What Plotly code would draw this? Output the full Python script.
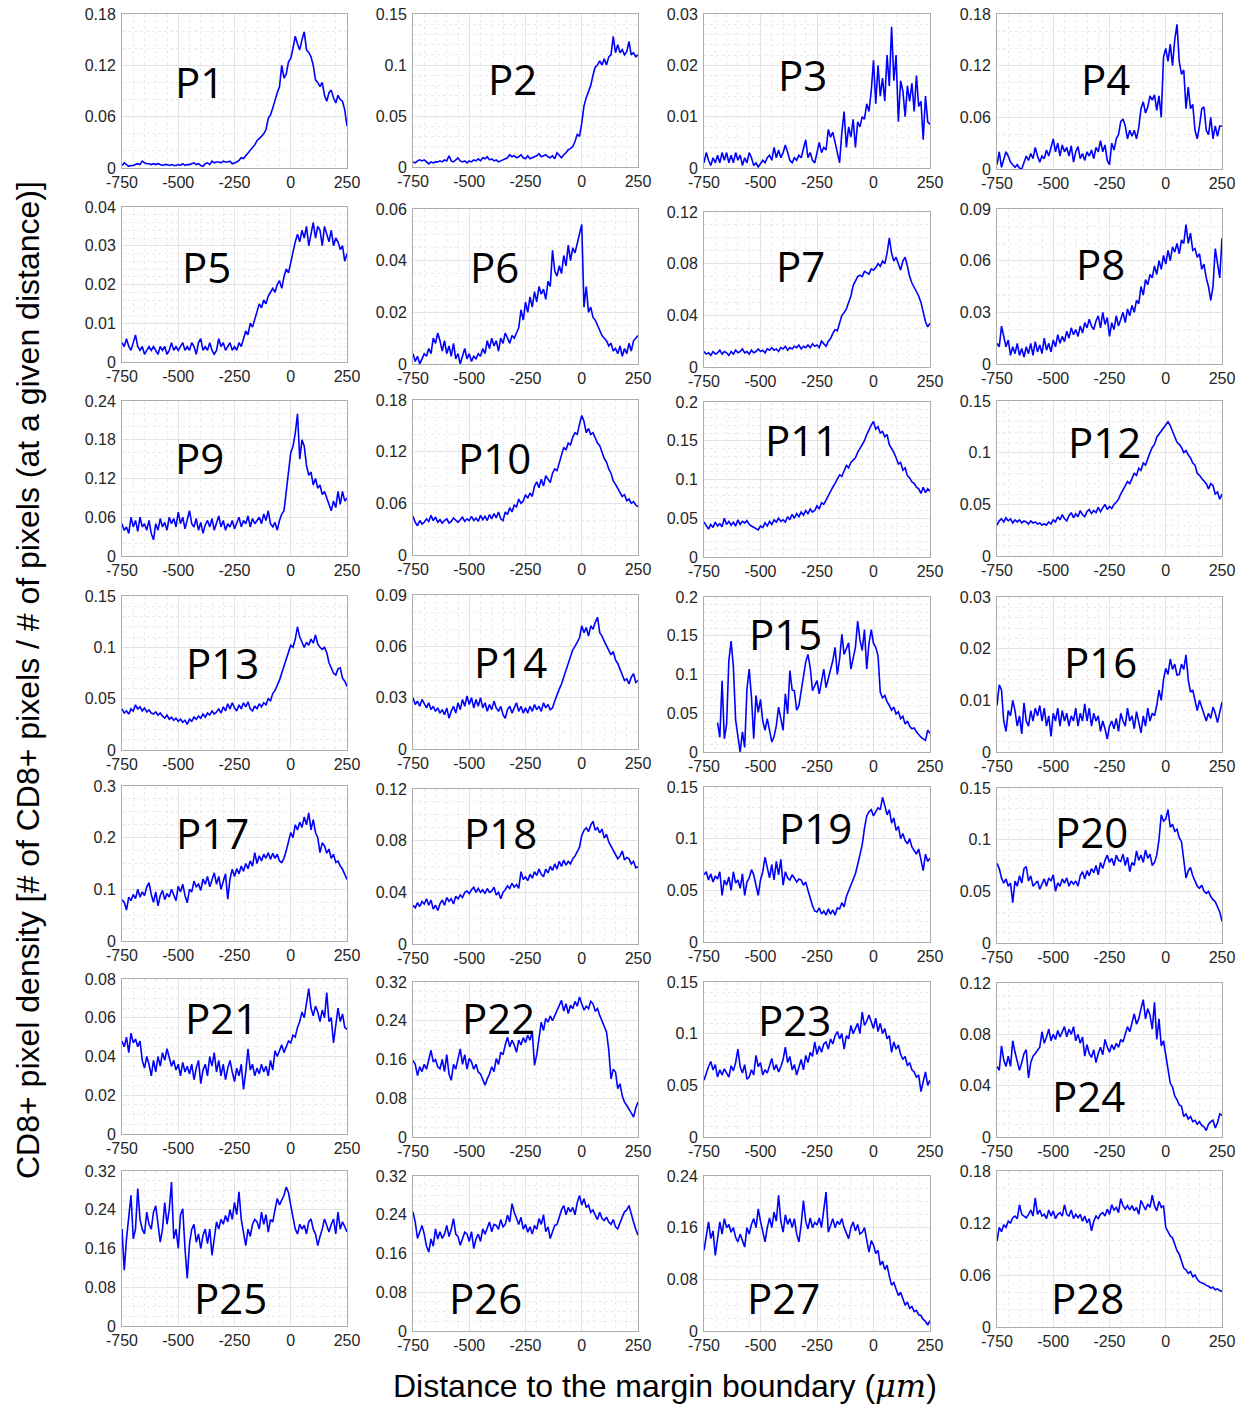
import plotly.graph_objects as go

W, H = 1247, 1405
OFF = 8               # the page body places the figure 8 px from the top-left corner
FW, FH = W - OFF, H - OFF

# ---------------- data ----------------
x_common = list(range(-750, 251, 10))
x_p15 = list(range(-690, 251, 10))
x_ticks = [-750, -500, -250, 0, 250]
x_ticklabels = ["-750", "-500", "-250", "0", "250"]

p1 = [0.003, 0.006, 0.004, 0.002, 0.003, 0.003, 0.004, 0.005, 0.004, 0.008,
      0.006, 0.005, 0.005, 0.004, 0.005, 0.004, 0.005, 0.004, 0.003, 0.004,
      0.004, 0.003, 0.004, 0.003, 0.003, 0.004, 0.003, 0.005, 0.003, 0.004,
      0.004, 0.005, 0.006, 0.004, 0.005, 0.003, 0.002, 0.005, 0.006, 0.004,
      0.008, 0.006, 0.007, 0.007, 0.006, 0.008, 0.007, 0.007, 0.008, 0.005,
      0.006, 0.007, 0.009, 0.012, 0.011, 0.014, 0.017, 0.02, 0.024, 0.027,
      0.032, 0.034, 0.037, 0.04, 0.045, 0.058, 0.062, 0.07, 0.08, 0.088,
      0.095, 0.12, 0.105, 0.11, 0.124, 0.128, 0.14, 0.154, 0.145, 0.138,
      0.15, 0.159, 0.138, 0.135, 0.13, 0.12, 0.103, 0.1, 0.095, 0.1,
      0.085, 0.078, 0.088, 0.091, 0.082, 0.076, 0.085, 0.08, 0.078, 0.068,
      0.049]
p2 = [0.005, 0.004, 0.006, 0.007, 0.006, 0.007, 0.005, 0.003, 0.005, 0.004,
      0.005, 0.005, 0.006, 0.005, 0.007, 0.006, 0.011, 0.006, 0.005, 0.007,
      0.009, 0.006, 0.005, 0.006, 0.004, 0.006, 0.005, 0.007, 0.006, 0.008,
      0.006, 0.009, 0.008, 0.01, 0.007, 0.008, 0.006, 0.007, 0.005, 0.006,
      0.007, 0.008, 0.009, 0.012, 0.01, 0.011, 0.009, 0.01, 0.012, 0.009,
      0.008, 0.011, 0.008, 0.009, 0.01, 0.011, 0.013, 0.01, 0.011, 0.012,
      0.01, 0.009, 0.011, 0.008, 0.014, 0.011, 0.009, 0.012, 0.014, 0.017,
      0.018, 0.02, 0.025, 0.032, 0.03, 0.043, 0.06, 0.068, 0.075, 0.08,
      0.09, 0.098, 0.1, 0.104, 0.1, 0.106, 0.1, 0.108, 0.11, 0.128,
      0.112, 0.12, 0.112, 0.115, 0.11, 0.113, 0.123, 0.11, 0.112, 0.108,
      0.11]
p3 = [0.001, 0.003, 0.0015, 0.0005, 0.002, 0.001, 0.0025, 0.001, 0.003, 0.0015,
      0.003, 0.001, 0.0025, 0.001, 0.003, 0.0015, 0.0025, 0.0005, 0.002, 0.001,
      0.003, 0.002, 0.0005, 0.001, 0.0002, 0.001, 0.0015, 0.001, 0.002, 0.0025,
      0.0015, 0.004, 0.002, 0.0035, 0.002, 0.003, 0.0045, 0.003, 0.0015, 0.001,
      0.002, 0.0015, 0.0025, 0.002, 0.004, 0.0055, 0.002, 0.003, 0.0015, 0.001,
      0.003, 0.005, 0.003, 0.004, 0.0035, 0.0075, 0.006, 0.007, 0.005, 0.003,
      0.001, 0.007, 0.011, 0.004, 0.008, 0.006, 0.0095, 0.004, 0.009, 0.008,
      0.01, 0.0095, 0.0125, 0.011, 0.015, 0.021, 0.0125, 0.02, 0.014, 0.0175,
      0.013, 0.022, 0.016, 0.0275, 0.017, 0.022, 0.009, 0.017, 0.015, 0.01,
      0.016, 0.013, 0.0165, 0.011, 0.018, 0.012, 0.013, 0.0055, 0.014, 0.009,
      0.0085]
p4 = [0.005, 0.02, 0.002, 0.01, 0.02, 0.015, 0.008, 0.005, 0.002, 0.005,
      0.001, 0.0, 0.008, 0.015, 0.01, 0.018, 0.012, 0.025, 0.015, 0.008,
      0.015, 0.012, 0.022, 0.015, 0.025, 0.035, 0.02, 0.03, 0.015, 0.028,
      0.02, 0.025, 0.015, 0.027, 0.008, 0.02, 0.026, 0.012, 0.018, 0.01,
      0.02, 0.015, 0.022, 0.012, 0.025, 0.02, 0.033, 0.02, 0.028, 0.01,
      0.005, 0.03, 0.022, 0.035, 0.04, 0.055, 0.058, 0.05, 0.035, 0.045,
      0.038, 0.045, 0.035, 0.048, 0.07, 0.078, 0.065, 0.072, 0.085, 0.08,
      0.086, 0.068, 0.085, 0.06, 0.13, 0.14, 0.125, 0.145, 0.12, 0.15,
      0.168, 0.125, 0.11, 0.115, 0.07, 0.095, 0.07, 0.075, 0.045, 0.035,
      0.05, 0.07, 0.072, 0.045, 0.04, 0.06, 0.035, 0.05, 0.038, 0.05,
      0.05]
p5 = [0.005, 0.004, 0.006, 0.004, 0.003, 0.005, 0.007, 0.004, 0.003, 0.004,
      0.002, 0.003, 0.004, 0.003, 0.004, 0.003, 0.002, 0.004, 0.003, 0.004,
      0.002, 0.003, 0.005, 0.003, 0.004, 0.003, 0.004, 0.005, 0.003, 0.004,
      0.003, 0.005, 0.004, 0.002, 0.005, 0.006, 0.003, 0.004, 0.003, 0.005,
      0.003, 0.002, 0.003, 0.006, 0.004, 0.005, 0.003, 0.004, 0.005, 0.003,
      0.004, 0.003, 0.005, 0.004, 0.006, 0.008, 0.007, 0.01, 0.009, 0.011,
      0.013, 0.015, 0.014, 0.016, 0.015, 0.017, 0.018, 0.019, 0.018, 0.02,
      0.021, 0.019, 0.022, 0.024, 0.023, 0.026, 0.028, 0.031, 0.033, 0.031,
      0.034, 0.032, 0.035, 0.03, 0.033, 0.036, 0.032, 0.035, 0.034, 0.03,
      0.035, 0.033, 0.031, 0.034, 0.03, 0.032, 0.031, 0.029, 0.03, 0.026,
      0.028]
p6 = [0.004, 0.001, 0.003, 0.0, 0.002, 0.004, 0.003, 0.006, 0.004, 0.01,
      0.008, 0.012, 0.009, 0.005, 0.009, 0.004, 0.007, 0.003, 0.008, 0.002,
      0.004, 0.0, 0.003, 0.006, 0.002, 0.004, 0.001, 0.003, 0.002, 0.004,
      0.003, 0.006, 0.004, 0.009, 0.006, 0.01, 0.007, 0.009, 0.005, 0.01,
      0.008, 0.012, 0.01, 0.008, 0.011, 0.01, 0.012, 0.014, 0.021, 0.017,
      0.024, 0.02, 0.026, 0.022, 0.028, 0.024, 0.03, 0.027, 0.029, 0.025,
      0.032, 0.03, 0.044, 0.036, 0.034, 0.038, 0.035, 0.042, 0.038, 0.046,
      0.04, 0.045, 0.043, 0.047, 0.05, 0.054, 0.022, 0.03, 0.02, 0.022,
      0.018, 0.017, 0.015, 0.013, 0.011, 0.01, 0.009, 0.007, 0.008, 0.005,
      0.006, 0.004, 0.007, 0.003, 0.006, 0.004, 0.008, 0.005, 0.009, 0.01,
      0.011]
p7 = [0.012, 0.01, 0.011, 0.009, 0.012, 0.01, 0.011, 0.013, 0.01, 0.012,
      0.011, 0.009, 0.012, 0.01, 0.013, 0.011, 0.012, 0.014, 0.011, 0.012,
      0.01, 0.013, 0.011, 0.012, 0.014, 0.012, 0.013, 0.011, 0.014, 0.013,
      0.015, 0.013, 0.014, 0.012, 0.015, 0.014, 0.016, 0.013, 0.015, 0.014,
      0.016, 0.015, 0.017, 0.014, 0.016, 0.015, 0.017, 0.015, 0.018, 0.016,
      0.017, 0.015, 0.02, 0.018, 0.016, 0.02, 0.022, 0.026, 0.029, 0.028,
      0.035, 0.04, 0.042, 0.045, 0.05, 0.055, 0.063, 0.066, 0.07, 0.071,
      0.07, 0.074, 0.073, 0.072, 0.076, 0.075, 0.077, 0.08, 0.078, 0.082,
      0.08, 0.088, 0.1, 0.088, 0.082, 0.085, 0.08, 0.075, 0.082, 0.085,
      0.078, 0.07, 0.065, 0.062, 0.058, 0.055, 0.05, 0.042, 0.035, 0.031,
      0.034]
p8 = [0.012, 0.01, 0.022, 0.015, 0.01, 0.014, 0.005, 0.01, 0.006, 0.012,
      0.005, 0.009, 0.004, 0.01, 0.006, 0.012, 0.005, 0.013, 0.007, 0.011,
      0.006, 0.015, 0.008, 0.012, 0.007, 0.014, 0.01, 0.017, 0.012, 0.016,
      0.013, 0.019, 0.015, 0.021, 0.017, 0.02, 0.016, 0.022, 0.018, 0.024,
      0.021, 0.026, 0.022, 0.02, 0.025, 0.028, 0.021, 0.03, 0.023, 0.027,
      0.016, 0.024, 0.02, 0.028, 0.022, 0.026, 0.03, 0.024, 0.032, 0.028,
      0.034, 0.03, 0.037, 0.035, 0.045, 0.04, 0.049, 0.046, 0.052, 0.05,
      0.057, 0.052, 0.06, 0.055, 0.063, 0.058, 0.066, 0.06, 0.068, 0.065,
      0.07, 0.064, 0.072, 0.07, 0.081, 0.07, 0.076, 0.066, 0.067, 0.062,
      0.064, 0.055, 0.058, 0.05, 0.045, 0.037, 0.045, 0.067, 0.058, 0.05,
      0.073]
p9 = [0.05, 0.04, 0.045, 0.035, 0.06, 0.045, 0.055, 0.038, 0.06, 0.045,
      0.05, 0.04, 0.055, 0.035, 0.025, 0.05, 0.04, 0.058, 0.045, 0.052,
      0.04, 0.06, 0.05, 0.058, 0.045, 0.068, 0.05, 0.06, 0.042, 0.055,
      0.07, 0.05, 0.045, 0.058, 0.04, 0.052, 0.035, 0.048, 0.055, 0.045,
      0.058, 0.04, 0.05, 0.062, 0.045, 0.055, 0.04, 0.05, 0.045, 0.055,
      0.042, 0.05, 0.06, 0.045, 0.055, 0.05, 0.062, 0.045, 0.058, 0.05,
      0.055, 0.06, 0.05, 0.065, 0.055, 0.07, 0.05, 0.045, 0.052, 0.04,
      0.055, 0.065, 0.07, 0.1, 0.14, 0.16, 0.17, 0.19, 0.22, 0.15,
      0.18, 0.17, 0.14, 0.125, 0.13, 0.11, 0.12, 0.105, 0.11, 0.095,
      0.1, 0.09, 0.08, 0.07, 0.085, 0.075, 0.1, 0.08, 0.1, 0.085,
      0.09]
p10 = [0.045, 0.038, 0.034, 0.04, 0.036, 0.038, 0.042, 0.039, 0.046, 0.04,
       0.044, 0.038, 0.041, 0.037, 0.04, 0.042, 0.037, 0.039, 0.043, 0.04,
       0.038, 0.041, 0.044, 0.039, 0.042, 0.04, 0.045, 0.04, 0.043, 0.039,
       0.046, 0.041, 0.045, 0.04, 0.047, 0.042, 0.048, 0.043, 0.05, 0.042,
       0.04, 0.05, 0.047, 0.055, 0.05, 0.058, 0.056, 0.065, 0.06, 0.063,
       0.07, 0.066, 0.072, 0.068, 0.08, 0.085, 0.078, 0.088, 0.08, 0.092,
       0.088, 0.084, 0.095, 0.1, 0.098, 0.108, 0.115, 0.125, 0.122, 0.13,
       0.128, 0.137, 0.142, 0.14, 0.152, 0.162, 0.155, 0.142, 0.147, 0.14,
       0.142, 0.135, 0.13, 0.127, 0.118, 0.112, 0.108, 0.1, 0.095, 0.086,
       0.082, 0.077, 0.072, 0.068, 0.07, 0.063, 0.065, 0.06, 0.062, 0.058,
       0.056]
p11 = [0.045, 0.04, 0.036, 0.042, 0.038, 0.045, 0.04, 0.043, 0.039, 0.05,
       0.042, 0.046, 0.041, 0.045, 0.04, 0.048, 0.042, 0.046, 0.044, 0.047,
       0.042, 0.04, 0.038, 0.036, 0.035, 0.04, 0.038, 0.044, 0.04, 0.046,
       0.042, 0.048, 0.045, 0.05, 0.046, 0.048, 0.045, 0.052, 0.048, 0.055,
       0.05, 0.056, 0.052, 0.058, 0.054, 0.06, 0.056, 0.062, 0.058, 0.06,
       0.066, 0.062, 0.07, 0.068, 0.074, 0.08, 0.085, 0.09, 0.095, 0.1,
       0.106, 0.104, 0.112, 0.118, 0.115, 0.122, 0.125, 0.128, 0.135, 0.14,
       0.145, 0.15, 0.158, 0.165, 0.17, 0.175, 0.165, 0.168, 0.16, 0.162,
       0.155, 0.158, 0.145, 0.14, 0.135, 0.128, 0.12, 0.122, 0.112, 0.115,
       0.105, 0.102, 0.097, 0.095, 0.09, 0.088, 0.082, 0.09, 0.083, 0.088,
       0.085]
p12 = [0.03, 0.034, 0.036, 0.033, 0.037, 0.034, 0.036, 0.032, 0.035, 0.033,
       0.035, 0.032, 0.034, 0.033, 0.031, 0.034, 0.032, 0.033, 0.031, 0.032,
       0.03, 0.031, 0.03, 0.033, 0.031, 0.035, 0.033, 0.038, 0.035, 0.04,
       0.036, 0.034, 0.039, 0.042, 0.037, 0.041, 0.038, 0.044, 0.04, 0.038,
       0.043, 0.045, 0.041, 0.044, 0.042, 0.047, 0.043, 0.046, 0.05, 0.045,
       0.048, 0.046, 0.05, 0.052, 0.055, 0.06, 0.064, 0.068, 0.072, 0.07,
       0.076, 0.08, 0.078, 0.085, 0.083, 0.09, 0.088, 0.095, 0.1, 0.105,
       0.108, 0.115, 0.118, 0.122, 0.125, 0.128, 0.13, 0.126, 0.12, 0.115,
       0.11, 0.108, 0.105, 0.1, 0.102, 0.098, 0.095, 0.09, 0.088, 0.08,
       0.078, 0.075, 0.072, 0.07, 0.065, 0.07, 0.068, 0.06, 0.062, 0.055,
       0.06]
p13 = [0.04, 0.036, 0.038, 0.035, 0.04, 0.038, 0.044, 0.04, 0.042, 0.038,
       0.041, 0.037, 0.039, 0.036, 0.035, 0.037, 0.034, 0.036, 0.033, 0.031,
       0.034, 0.03, 0.032, 0.029, 0.031, 0.028, 0.03, 0.027, 0.029, 0.025,
       0.03, 0.028, 0.032, 0.03, 0.033, 0.031, 0.035, 0.032, 0.036, 0.034,
       0.038, 0.035, 0.037, 0.04, 0.036, 0.042, 0.038, 0.045, 0.04, 0.046,
       0.041, 0.038, 0.044, 0.04, 0.046, 0.042, 0.047, 0.04, 0.038, 0.043,
       0.04, 0.045, 0.042, 0.046, 0.044, 0.05, 0.048, 0.055, 0.058, 0.063,
       0.068, 0.075, 0.082, 0.09, 0.097, 0.102, 0.1, 0.108, 0.12, 0.11,
       0.105, 0.1, 0.105, 0.102, 0.108, 0.104, 0.112, 0.103, 0.1, 0.098,
       0.1, 0.095, 0.085, 0.08, 0.075, 0.073, 0.079, 0.08, 0.07, 0.067,
       0.062]
p14 = [0.03, 0.026, 0.028, 0.025, 0.029, 0.026, 0.024, 0.027, 0.023, 0.025,
       0.022, 0.024, 0.021, 0.023, 0.02, 0.024, 0.018, 0.022, 0.025, 0.021,
       0.027, 0.023, 0.029, 0.025, 0.031, 0.026, 0.03, 0.024, 0.029, 0.025,
       0.03, 0.024, 0.027, 0.022, 0.026, 0.023, 0.028, 0.024, 0.022, 0.025,
       0.02, 0.018, 0.023, 0.025, 0.021, 0.024, 0.027, 0.022, 0.025, 0.021,
       0.024, 0.021, 0.025, 0.022, 0.026, 0.023, 0.025, 0.022, 0.027, 0.024,
       0.026, 0.023, 0.024, 0.028, 0.032, 0.035, 0.038, 0.042, 0.046, 0.05,
       0.055, 0.058, 0.06, 0.063, 0.065, 0.072, 0.068, 0.071, 0.066, 0.072,
       0.07, 0.074, 0.077, 0.068, 0.066, 0.063, 0.06, 0.058, 0.055, 0.057,
       0.052, 0.05, 0.047, 0.043, 0.04, 0.041, 0.038, 0.042, 0.044, 0.039,
       0.04]
p15 = [0.038, 0.019, 0.092, 0.017, 0.036, 0.118, 0.143, 0.11, 0.041,
       0.019, 0.0, 0.026, 0.006, 0.081, 0.107, 0.071, 0.017, 0.073, 0.051,
       0.068, 0.04, 0.028, 0.043, 0.028, 0.013, 0.02, 0.034, 0.058, 0.04,
       0.028, 0.075, 0.049, 0.105, 0.08, 0.079, 0.054, 0.06, 0.079, 0.1,
       0.116, 0.126, 0.109, 0.079, 0.085, 0.092, 0.075, 0.09, 0.107, 0.083,
       0.095, 0.107, 0.118, 0.135, 0.1, 0.12, 0.152, 0.126, 0.135, 0.141,
       0.107, 0.12, 0.135, 0.169, 0.145, 0.131, 0.158, 0.107, 0.14, 0.158,
       0.14, 0.135, 0.124, 0.077, 0.07, 0.073, 0.065, 0.06, 0.054, 0.058,
       0.049, 0.052, 0.043, 0.046, 0.036, 0.04, 0.033, 0.03, 0.031, 0.026,
       0.022, 0.019, 0.017, 0.015, 0.028, 0.024]
p16 = [0.009, 0.013, 0.012, 0.006, 0.004, 0.008, 0.007, 0.01, 0.008, 0.005,
       0.007, 0.0035, 0.0095, 0.006, 0.005, 0.008, 0.006, 0.0085, 0.007, 0.009,
       0.006, 0.0085, 0.005, 0.007, 0.003, 0.0075, 0.006, 0.0085, 0.005, 0.008,
       0.006, 0.0075, 0.005, 0.007, 0.006, 0.0085, 0.005, 0.0075, 0.006, 0.0093,
       0.006, 0.0085, 0.005, 0.0075, 0.006, 0.007, 0.004, 0.006, 0.0045, 0.0025,
       0.005, 0.006, 0.0045, 0.0065, 0.004, 0.0075, 0.006, 0.005, 0.0085, 0.006,
       0.007, 0.0045, 0.0078, 0.006, 0.0037, 0.007, 0.005, 0.0085, 0.006, 0.0075,
       0.007, 0.009, 0.012, 0.01, 0.014, 0.0162, 0.015, 0.018, 0.016, 0.017,
       0.0149, 0.015, 0.017, 0.016, 0.0188, 0.014, 0.0116, 0.012, 0.01, 0.008,
       0.01, 0.0085, 0.007, 0.006, 0.0075, 0.0065, 0.0087, 0.0075, 0.0057, 0.0075,
       0.0097]
p17 = [0.08, 0.075, 0.06, 0.085, 0.078, 0.09, 0.082, 0.1, 0.085, 0.095,
       0.088, 0.105, 0.113, 0.09, 0.075, 0.095, 0.068, 0.088, 0.098, 0.08,
       0.092, 0.085, 0.1, 0.09, 0.078, 0.106, 0.095, 0.11, 0.088, 0.074,
       0.1, 0.095, 0.116, 0.105, 0.11, 0.098, 0.12, 0.11, 0.125, 0.105,
       0.12, 0.132, 0.11, 0.125, 0.1, 0.118, 0.13, 0.081, 0.12, 0.139,
       0.125, 0.14, 0.13, 0.145, 0.135, 0.15, 0.14, 0.155, 0.145, 0.171,
       0.15, 0.165, 0.155, 0.168, 0.16, 0.171, 0.158, 0.17, 0.16, 0.168,
       0.155, 0.152, 0.16, 0.175, 0.19, 0.21, 0.2, 0.225, 0.215, 0.23,
       0.22, 0.24, 0.225, 0.248, 0.215, 0.235, 0.21, 0.2, 0.171, 0.19,
       0.184, 0.17, 0.178, 0.16, 0.168, 0.152, 0.155, 0.145, 0.139, 0.13,
       0.119]
p18 = [0.03, 0.028, 0.032, 0.029, 0.033, 0.031, 0.035, 0.03, 0.034, 0.027,
       0.03, 0.026, 0.031, 0.034, 0.03, 0.036, 0.033, 0.035, 0.031, 0.037,
       0.035, 0.038, 0.036, 0.04, 0.041, 0.039, 0.042, 0.044, 0.04, 0.043,
       0.04, 0.042, 0.039, 0.043, 0.04, 0.041, 0.044, 0.038, 0.04, 0.035,
       0.04, 0.042, 0.045, 0.043, 0.047, 0.044, 0.046, 0.043, 0.056, 0.05,
       0.052, 0.049, 0.054, 0.051, 0.056, 0.053, 0.058, 0.054, 0.052, 0.058,
       0.055, 0.06, 0.057, 0.062, 0.058, 0.064, 0.06, 0.065, 0.061, 0.064,
       0.062, 0.066, 0.068, 0.072, 0.075, 0.084, 0.088, 0.09, 0.087, 0.092,
       0.095, 0.088, 0.09, 0.086, 0.089, 0.082, 0.085, 0.079, 0.076, 0.072,
       0.07, 0.066, 0.068, 0.072, 0.065, 0.067, 0.066, 0.062, 0.064, 0.059,
       0.06]
p19 = [0.065, 0.068, 0.06, 0.066, 0.058, 0.064, 0.061, 0.068, 0.045, 0.06,
       0.055, 0.063, 0.05, 0.068, 0.057, 0.06, 0.052, 0.066, 0.045, 0.058,
       0.062, 0.07, 0.065, 0.055, 0.045, 0.06, 0.068, 0.082, 0.07, 0.062,
       0.075, 0.06, 0.078, 0.065, 0.08, 0.055, 0.068, 0.062, 0.06, 0.065,
       0.062, 0.058, 0.061, 0.06, 0.055, 0.058, 0.05, 0.042, 0.035, 0.03,
       0.029, 0.033, 0.027, 0.03, 0.026, 0.032, 0.027, 0.031, 0.026, 0.033,
       0.032, 0.038, 0.034, 0.044, 0.05, 0.055, 0.061, 0.066, 0.075, 0.085,
       0.094, 0.11, 0.122, 0.126, 0.128, 0.122, 0.126, 0.13, 0.128, 0.14,
       0.132, 0.123, 0.128, 0.115, 0.12, 0.108, 0.112, 0.1, 0.105, 0.098,
       0.095, 0.1, 0.092, 0.088, 0.085, 0.09, 0.08, 0.069, 0.085, 0.078,
       0.081]
p20 = [0.077, 0.072, 0.063, 0.058, 0.062, 0.055, 0.058, 0.039, 0.06, 0.055,
       0.065, 0.058, 0.072, 0.074, 0.06, 0.065, 0.055, 0.058, 0.06, 0.052,
       0.058, 0.062, 0.055, 0.063, 0.06, 0.066, 0.05, 0.058, 0.055, 0.062,
       0.058, 0.063, 0.055, 0.06, 0.057, 0.06, 0.055, 0.065, 0.069, 0.062,
       0.07, 0.065, 0.072, 0.068, 0.075, 0.066, 0.078, 0.072, 0.08, 0.085,
       0.078, 0.082, 0.075, 0.085, 0.08, 0.079, 0.086, 0.075, 0.083, 0.069,
       0.078, 0.075, 0.089, 0.08, 0.085, 0.078, 0.09, 0.082, 0.086, 0.075,
       0.078, 0.085, 0.1, 0.124, 0.118, 0.12, 0.129, 0.112, 0.115, 0.108,
       0.11, 0.102, 0.098, 0.08, 0.063, 0.07, 0.073, 0.065, 0.06, 0.055,
       0.053, 0.056, 0.05, 0.048, 0.05, 0.045, 0.042, 0.04, 0.035, 0.03,
       0.021]
p21 = [0.048, 0.045, 0.05, 0.042, 0.052, 0.047, 0.049, 0.045, 0.048, 0.038,
       0.034, 0.04, 0.036, 0.03, 0.038, 0.032, 0.04, 0.035, 0.042, 0.038,
       0.044, 0.04, 0.035, 0.038, 0.033, 0.036, 0.03, 0.037, 0.032, 0.035,
       0.031, 0.036, 0.028, 0.034, 0.038, 0.026, 0.033, 0.036, 0.03, 0.04,
       0.035, 0.042, 0.032, 0.038, 0.03, 0.036, 0.028, 0.034, 0.038, 0.032,
       0.027, 0.034, 0.03, 0.036, 0.023, 0.032, 0.044, 0.033, 0.036, 0.03,
       0.034, 0.031, 0.036, 0.032, 0.035, 0.03, 0.038, 0.033, 0.043, 0.04,
       0.043, 0.046, 0.042, 0.045, 0.048, 0.047, 0.051, 0.05, 0.055, 0.058,
       0.063, 0.06, 0.068, 0.075, 0.065, 0.061, 0.066, 0.063, 0.058, 0.064,
       0.06, 0.073, 0.058, 0.06, 0.047, 0.055, 0.065, 0.058, 0.062, 0.055,
       0.054]
p22 = [0.158, 0.15, 0.127, 0.145, 0.135, 0.15, 0.14, 0.162, 0.179, 0.155,
       0.16, 0.145, 0.141, 0.16, 0.135, 0.17, 0.13, 0.117, 0.15, 0.14,
       0.165, 0.182, 0.15, 0.17, 0.14, 0.162, 0.155, 0.14, 0.15, 0.134,
       0.13, 0.12, 0.107, 0.12, 0.13, 0.145, 0.135, 0.162, 0.15, 0.175,
       0.17, 0.19, 0.206, 0.186, 0.2, 0.19, 0.175, 0.2, 0.19, 0.205,
       0.195, 0.21, 0.2, 0.217, 0.148, 0.17, 0.2, 0.237, 0.22, 0.245,
       0.237, 0.25, 0.24, 0.251, 0.26, 0.27, 0.282, 0.26, 0.275, 0.255,
       0.272, 0.265, 0.28, 0.27, 0.289, 0.275, 0.262, 0.27, 0.265, 0.28,
       0.275, 0.26, 0.265, 0.251, 0.24, 0.23, 0.217, 0.18, 0.12, 0.14,
       0.134, 0.1, 0.11, 0.085, 0.072, 0.065, 0.058, 0.05, 0.041, 0.06,
       0.072]
p23 = [0.055, 0.062, 0.068, 0.073, 0.065, 0.07, 0.058, 0.065, 0.06, 0.066,
       0.062, 0.058, 0.069, 0.064, 0.072, 0.085, 0.068, 0.062, 0.07, 0.056,
       0.058, 0.065, 0.06, 0.079, 0.068, 0.072, 0.06, 0.065, 0.062, 0.07,
       0.076, 0.065, 0.07, 0.063, 0.068, 0.075, 0.087, 0.072, 0.078, 0.065,
       0.07, 0.06, 0.068, 0.075, 0.065, 0.079, 0.072, 0.082, 0.078, 0.092,
       0.08, 0.088, 0.082, 0.09, 0.092, 0.085, 0.095, 0.09, 0.098, 0.102,
       0.095, 0.1, 0.085, 0.098, 0.095, 0.108, 0.1, 0.105, 0.11, 0.1,
       0.121, 0.108, 0.112, 0.118, 0.111, 0.105, 0.115, 0.102, 0.11, 0.1,
       0.105, 0.095, 0.098, 0.082, 0.092, 0.085, 0.089, 0.08, 0.075, 0.078,
       0.069, 0.072, 0.065, 0.063, 0.058, 0.06, 0.044, 0.055, 0.063, 0.05,
       0.055]
p24 = [0.055, 0.052, 0.071, 0.06, 0.055, 0.063, 0.055, 0.075, 0.066, 0.06,
       0.052, 0.058, 0.065, 0.068, 0.046, 0.058, 0.063, 0.065, 0.068, 0.07,
       0.082, 0.073, 0.078, 0.084, 0.075, 0.08, 0.076, 0.083, 0.078, 0.082,
       0.086, 0.078, 0.084, 0.08, 0.086, 0.075, 0.08, 0.073, 0.078, 0.063,
       0.072, 0.065, 0.062, 0.068, 0.058, 0.065, 0.07, 0.064, 0.076, 0.07,
       0.066, 0.072, 0.068, 0.073, 0.07, 0.076, 0.074, 0.08, 0.086, 0.082,
       0.09, 0.096, 0.088, 0.092, 0.1, 0.107, 0.092, 0.1, 0.095, 0.084,
       0.105, 0.076, 0.092, 0.071, 0.075, 0.063, 0.05, 0.042, 0.039, 0.032,
       0.029, 0.025, 0.024, 0.016, 0.018, 0.014, 0.016, 0.012, 0.013, 0.01,
       0.012, 0.009, 0.008, 0.005, 0.01, 0.012, 0.013, 0.007, 0.011, 0.018,
       0.017]
p25 = [0.2, 0.115, 0.18, 0.221, 0.27, 0.18, 0.2, 0.284, 0.22, 0.2,
       0.19, 0.235, 0.21, 0.2, 0.235, 0.248, 0.21, 0.173, 0.2, 0.255,
       0.21, 0.24, 0.297, 0.18, 0.2, 0.16, 0.23, 0.242, 0.16, 0.098,
       0.17, 0.2, 0.21, 0.173, 0.19, 0.16, 0.187, 0.2, 0.17, 0.2,
       0.146, 0.18, 0.215, 0.2, 0.22, 0.21, 0.228, 0.215, 0.24, 0.22,
       0.255, 0.23, 0.277, 0.22, 0.19, 0.166, 0.2, 0.185, 0.21, 0.22,
       0.215, 0.2, 0.235, 0.21, 0.23, 0.194, 0.22, 0.215, 0.24, 0.263,
       0.25, 0.262, 0.27, 0.287, 0.275, 0.249, 0.22, 0.2, 0.19, 0.21,
       0.2, 0.208, 0.19, 0.215, 0.221, 0.2, 0.19, 0.166, 0.185, 0.2,
       0.221, 0.205, 0.194, 0.21, 0.221, 0.19, 0.235, 0.2, 0.215, 0.205,
       0.194]
p26 = [0.246, 0.225, 0.191, 0.205, 0.218, 0.2, 0.175, 0.163, 0.19, 0.175,
       0.211, 0.19, 0.205, 0.191, 0.2, 0.218, 0.195, 0.21, 0.232, 0.2,
       0.195, 0.177, 0.19, 0.204, 0.2, 0.185, 0.205, 0.17, 0.19, 0.2,
       0.185, 0.211, 0.2, 0.215, 0.225, 0.205, 0.22, 0.218, 0.21, 0.23,
       0.215, 0.22, 0.239, 0.225, 0.263, 0.245, 0.232, 0.22, 0.235, 0.21,
       0.22, 0.204, 0.215, 0.2, 0.218, 0.21, 0.232, 0.22, 0.24, 0.205,
       0.215, 0.191, 0.205, 0.218, 0.22, 0.235, 0.25, 0.259, 0.24, 0.255,
       0.246, 0.255, 0.24, 0.265, 0.28, 0.26, 0.273, 0.255, 0.26, 0.245,
       0.25, 0.239, 0.23, 0.245, 0.232, 0.228, 0.235, 0.225, 0.22, 0.23,
       0.215, 0.211, 0.225, 0.235, 0.246, 0.25, 0.259, 0.24, 0.225, 0.21,
       0.198]
p27 = [0.125, 0.15, 0.169, 0.143, 0.155, 0.117, 0.14, 0.169, 0.15, 0.174,
       0.16, 0.165, 0.153, 0.16, 0.145, 0.138, 0.15, 0.14, 0.13, 0.16,
       0.15, 0.165, 0.174, 0.16, 0.189, 0.17, 0.155, 0.138, 0.16, 0.175,
       0.16, 0.184, 0.17, 0.21, 0.17, 0.153, 0.18, 0.165, 0.174, 0.16,
       0.174, 0.15, 0.138, 0.165, 0.202, 0.17, 0.158, 0.175, 0.16, 0.168,
       0.164, 0.175, 0.16, 0.185, 0.215, 0.153, 0.165, 0.174, 0.16, 0.17,
       0.165, 0.174, 0.16, 0.15, 0.143, 0.16, 0.169, 0.155, 0.165, 0.15,
       0.153, 0.16, 0.14, 0.122, 0.14, 0.133, 0.12, 0.125, 0.102, 0.108,
       0.095, 0.102, 0.085, 0.071, 0.075, 0.065, 0.055, 0.06, 0.048, 0.04,
       0.045, 0.035, 0.038, 0.03, 0.032, 0.025, 0.024, 0.018, 0.015, 0.009,
       0.016]
p28 = [0.099, 0.115, 0.11, 0.118, 0.115, 0.122, 0.12, 0.126, 0.128, 0.125,
       0.141, 0.13, 0.128, 0.126, 0.13, 0.135, 0.128, 0.149, 0.13, 0.135,
       0.128, 0.13, 0.125, 0.135, 0.128, 0.134, 0.125, 0.13, 0.132, 0.128,
       0.141, 0.13, 0.128, 0.135, 0.125, 0.13, 0.126, 0.13, 0.122, 0.128,
       0.12, 0.125, 0.111, 0.122, 0.128, 0.125, 0.13, 0.132, 0.128, 0.136,
       0.13, 0.141, 0.135, 0.138, 0.132, 0.148, 0.14, 0.136, 0.14, 0.135,
       0.14, 0.134, 0.138, 0.13, 0.146, 0.14, 0.135, 0.142, 0.138, 0.152,
       0.14, 0.134, 0.145, 0.138, 0.14, 0.115, 0.11, 0.105, 0.103, 0.095,
       0.088, 0.084, 0.075, 0.068, 0.066, 0.062, 0.064, 0.058, 0.06, 0.055,
       0.052, 0.051, 0.05, 0.048, 0.047, 0.045, 0.046, 0.043, 0.044, 0.042,
       0.041]

names = ["P%d" % i for i in range(1, 29)]
series = [p1, p2, p3, p4, p5, p6, p7, p8, p9, p10, p11, p12, p13, p14,
          p15, p16, p17, p18, p19, p20, p21, p22, p23, p24, p25, p26, p27, p28]
series_x = [x_p15 if n == "P15" else x_common for n in names]

y_ticklabels = [
    ["0", "0.06", "0.12", "0.18"], ["0", "0.05", "0.1", "0.15"],
    ["0", "0.01", "0.02", "0.03"], ["0", "0.06", "0.12", "0.18"],
    ["0", "0.01", "0.02", "0.03", "0.04"], ["0", "0.02", "0.04", "0.06"],
    ["0", "0.04", "0.08", "0.12"], ["0", "0.03", "0.06", "0.09"],
    ["0", "0.06", "0.12", "0.18", "0.24"], ["0", "0.06", "0.12", "0.18"],
    ["0", "0.05", "0.1", "0.15", "0.2"], ["0", "0.05", "0.1", "0.15"],
    ["0", "0.05", "0.1", "0.15"], ["0", "0.03", "0.06", "0.09"],
    ["0", "0.05", "0.1", "0.15", "0.2"], ["0", "0.01", "0.02", "0.03"],
    ["0", "0.1", "0.2", "0.3"], ["0", "0.04", "0.08", "0.12"],
    ["0", "0.05", "0.1", "0.15"], ["0", "0.05", "0.1", "0.15"],
    ["0", "0.02", "0.04", "0.06", "0.08"], ["0", "0.08", "0.16", "0.24", "0.32"],
    ["0", "0.05", "0.1", "0.15"], ["0", "0.04", "0.08", "0.12"],
    ["0", "0.08", "0.16", "0.24", "0.32"], ["0", "0.08", "0.16", "0.24", "0.32"],
    ["0", "0.08", "0.16", "0.24"], ["0", "0.06", "0.12", "0.18"],
]

# ---------------- layout (pixels in the page) ----------------
col_x = [(122, 347), (413, 638), (704, 930), (997, 1222)]
panel_y = [
    (14, 168), (14, 167), (14, 168), (14, 169),
    (207, 362), (209, 364), (212, 367), (209, 364),
    (401, 556), (400, 555), (402, 557), (401, 556),
    (596, 750), (595, 749), (597, 752), (597, 752),
    (786, 941), (789, 944), (787, 942), (788, 943),
    (979, 1134), (982, 1137), (982, 1137), (983, 1137),
    (1171, 1326), (1176, 1331), (1176, 1331), (1171, 1327),
]
label_pos = [
    (199, 81), (512, 78), (802, 75), (1105, 78),
    (206, 266), (494, 266), (800, 265), (1100, 264),
    (199, 458), (494, 458), (801, 440), (1104, 441),
    (222, 662), (510, 661), (785, 634), (1100, 661),
    (212, 832), (500, 832), (815, 827), (1091, 831),
    (221, 1018), (499, 1018), (794, 1019), (1088, 1095),
    (230, 1297), (485, 1297), (783, 1297), (1087, 1297),
]


def px(v):
    return (v - OFF) / FW


def py(v):
    return 1 - (v - OFF) / FH


LINE_BLUE = "#0000ff"
BOX = "#adadad"
GRID = "#e3e3e3"
MINOR = "#ebebeb"
TICKFONT = dict(family="Liberation Sans, Arial, sans-serif", size=16, color="#262626")

fig = go.Figure()
layout = dict(width=FW, height=FH, margin=dict(l=0, r=0, t=0, b=0, autoexpand=False),
              autosize=False, paper_bgcolor="white", plot_bgcolor="white", showlegend=False)
annotations = []

for i, name in enumerate(names):
    k = i + 1
    xa = "x" if k == 1 else "x%d" % k
    ya = "y" if k == 1 else "y%d" % k
    fig.add_trace(go.Scatter(x=series_x[i], y=series[i], mode="lines",
                             line=dict(color=LINE_BLUE, width=1.6),
                             xaxis=xa, yaxis=ya, hoverinfo="skip"))
    cx0, cx1 = col_x[i % 4]
    py0, py1 = panel_y[i]
    labels = y_ticklabels[i]
    vals = [float(t) for t in labels]
    step = vals[1]
    hund = round(step * 100)
    kdiv = 3 if hund % 3 == 0 else (4 if hund % 2 == 0 else 5)
    layout["xaxis" if k == 1 else "xaxis%d" % k] = dict(
        domain=[px(cx0), px(cx1)], anchor=ya, range=[-750, 250], automargin=False,
        tickmode="array", tickvals=x_ticks, ticktext=x_ticklabels,
        showline=True, mirror=True, linecolor=BOX, linewidth=1,
        showgrid=True, gridcolor=GRID, gridwidth=1, zeroline=False,
        ticks="", tickfont=TICKFONT, ticklabelstandoff=0, ticklabeloverflow="allow",
        minor=dict(dtick=50, tick0=0, showgrid=True, gridcolor=MINOR, griddash="dot", ticks=""),
    )
    layout["yaxis" if k == 1 else "yaxis%d" % k] = dict(
        domain=[py(py1), py(py0)], anchor=xa, range=[0, vals[-1]], automargin=False,
        tickmode="array", tickvals=vals, ticktext=labels,
        showline=True, mirror=True, linecolor=BOX, linewidth=1,
        showgrid=True, gridcolor=GRID, gridwidth=1, zeroline=False,
        ticks="", tickfont=TICKFONT, ticklabelstandoff=2, ticklabeloverflow="allow",
        minor=dict(dtick=step / kdiv, tick0=0, showgrid=True, gridcolor=MINOR, griddash="dot", ticks=""),
    )
    lx, ly = label_pos[i]
    annotations.append(dict(text=name, x=px(lx), y=py(ly), xref="paper", yref="paper",
                            xanchor="center", yanchor="middle", showarrow=False,
                            font=dict(family="Open Sans, Noto Sans, sans-serif", size=42, color="black")))

annotations.append(dict(
    text="CD8+ pixel density [# of CD8+ pixels / # of pixels (at a given distance)]",
    x=px(28), y=py(680), xref="paper", yref="paper", textangle=-90,
    xanchor="center", yanchor="middle", showarrow=False,
    font=dict(family="Liberation Sans, Arial, sans-serif", size=32, color="black")))
annotations.append(dict(
    text="Distance to the margin boundary (<span style=\"font-family:'DejaVu Serif';font-style:italic\">μm</span>)",
    x=px(665), y=py(1386), xref="paper", yref="paper",
    xanchor="center", yanchor="middle", showarrow=False,
    font=dict(family="Liberation Sans, Arial, sans-serif", size=32, color="black")))

layout["annotations"] = annotations
fig.update_layout(**layout)
fig.write_html("out.html")
